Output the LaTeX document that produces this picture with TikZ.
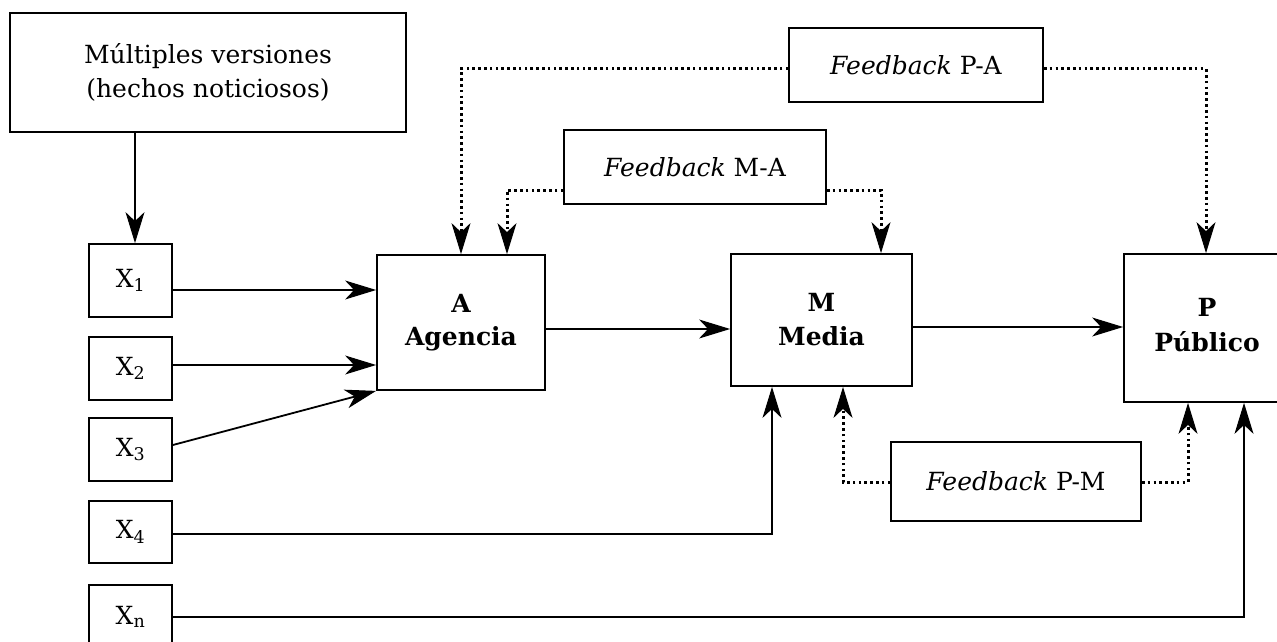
\documentclass[tikz,border=0pt]{standalone}
\usepackage{fontspec}
\setmainfont{DejaVu Serif}
\usetikzlibrary{arrows.meta}
\tikzset{
  box/.style={draw, line width=1.8pt, inner sep=0pt, align=center,
    font=\fontsize{25}{34}\selectfont},
  xbox/.style={box, minimum width=83pt},
  arr/.style={line width=1.8pt, -{Stealth[length=31pt,width=19pt,inset=9pt,line width=1pt]}},
  dotarr/.style={arr, line width=3pt, dash pattern=on 2.6pt off 3.2pt}
}
\begin{document}
\begin{tikzpicture}[x=1pt,y=-1pt]
\useasboundingbox (0,0) rectangle (1277,642);
\clip (0,0) rectangle (1277,642);
% nodes
\node[box, minimum width=396pt, minimum height=119pt] (mv) at (208,72.5) {Múltiples versiones\\(hechos noticiosos)};
\node[xbox, minimum height=73pt] (x1) at (130.5,280.5) {X\textsubscript{1}};
\node[xbox, minimum height=63pt] (x2) at (130.5,368.5) {X\textsubscript{2}};
\node[xbox, minimum height=63pt] (x3) at (130.5,449.5) {X\textsubscript{3}};
\node[xbox, minimum height=62pt] (x4) at (130.5,532) {X\textsubscript{4}};
\node[xbox, minimum height=64pt] (xn) at (130.5,617) {X\textsubscript{n}};
\node[box, font=\fontsize{25}{33}\selectfont\bfseries, minimum width=168pt, minimum height=135pt] (A) at (461,322.5) {A\\Agencia};
\node[box, font=\fontsize{25}{34}\selectfont\bfseries, minimum width=181pt, minimum height=132pt] (M) at (821.5,320) {M\\Media};
\node[box, font=\fontsize{25}{35}\selectfont\bfseries, minimum width=166pt, minimum height=148pt, text depth=6pt] (P) at (1207,328) {P\\Público};
\node[box, minimum width=254pt, minimum height=74pt] (fpa) at (916,65) {\textit{Feedback} P-A};
\node[box, minimum width=262pt, minimum height=74pt] (fma) at (695,167) {\textit{Feedback} M-A};
\node[box, minimum width=250pt, minimum height=79pt] (fpm) at (1016,481.5) {\textit{Feedback} P-M};
% helper coordinates
\coordinate (yx1) at (0,290);
\coordinate (yx2) at (0,365);
\coordinate (yx3) at (0,445);
\coordinate (yam) at (0,329);
\coordinate (ymp) at (0,327);
\coordinate (yx4) at (0,534);
\coordinate (yxn) at (0,617);
\coordinate (ypa) at (0,69);
\coordinate (yma) at (0,190);
\coordinate (ypm) at (0,482);
\coordinate (c135) at (135,0);
\coordinate (c461) at (461,0);
\coordinate (c507) at (507,0);
\coordinate (c881) at (881,0);
\coordinate (c1206) at (1206,0);
\coordinate (c843) at (843,0);
\coordinate (c1188) at (1188,0);
\coordinate (c772) at (772,0);
\coordinate (c1244) at (1244,0);
% solid connectors
\draw[arr] (mv.south -| c135) -- (x1.north -| c135);
\draw[arr] (x1.east |- yx1) -- (A.west |- yx1);
\draw[arr] (x2.east |- yx2) -- (A.west |- yx2);
\draw[arr] (x3.east |- yx3) -- (A.south west);
\draw[arr] (A.east |- yam) -- (M.west |- yam);
\draw[arr] (M.east |- ymp) -- (P.west |- ymp);
\draw[arr] (x4.east |- yx4) -- (c772 |- yx4) -- (M.south -| c772);
\draw[arr] (xn.east |- yxn) -- (c1244 |- yxn) -- (P.south -| c1244);
% dotted feedback connectors
\draw[dotarr] (fpa.west |- ypa) -- (c461 |- ypa) -- (A.north -| c461);
\draw[dotarr] (fpa.east |- ypa) -- (c1206 |- ypa) -- (P.north -| c1206);
\draw[dotarr] (fma.west |- yma) -- (c507 |- yma) -- (A.north -| c507);
\draw[dotarr] (fma.east |- yma) -- (c881 |- yma) -- (M.north -| c881);
\draw[dotarr] (fpm.west |- ypm) -- (c843 |- ypm) -- (M.south -| c843);
\draw[dotarr] (fpm.east |- ypm) -- (c1188 |- ypm) -- (P.south -| c1188);
\end{tikzpicture}
\end{document}
